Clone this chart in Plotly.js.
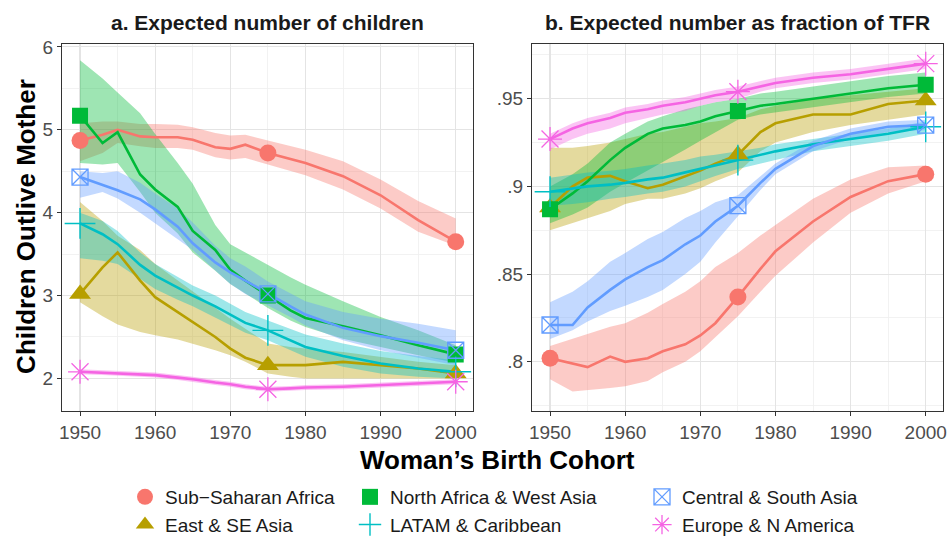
<!DOCTYPE html>
<html>
<head>
<meta charset="utf-8">
<script src="https://cdn.plot.ly/plotly-3.0.1.min.js"></script>
<style>html,body{margin:0;padding:0;background:#fff;}#chart{width:952px;height:544px;}</style>
</head>
<body>
<div id="chart"></div>
<script>
// ---------- DATA ----------
const years = [1950, 1953, 1955, 1958, 1960, 1963, 1965, 1968, 1970, 1972, 1975, 1978, 1980, 1985, 1990, 1995, 2000];
const markerYears = [1950, 1975, 2000];
const regions = ['Sub\u2212Saharan Africa', 'East & SE Asia', 'North Africa & West Asia', 'LATAM & Caribbean', 'Central & South Asia', 'Europe & N America'];

// Panel a: expected number of children outliving mother
const ssaA    = [4.87, 4.94, 5.00, 4.92, 4.91, 4.91, 4.88, 4.79, 4.77, 4.82, 4.72, 4.65, 4.60, 4.44, 4.21, 3.91, 3.65];
const ssaAHi  = [5.08, 5.10, 5.10, 5.07, 5.07, 5.06, 5.03, 4.96, 4.93, 4.94, 4.87, 4.80, 4.76, 4.62, 4.40, 4.14, 3.93];
const ssaALo  = [4.62, 4.72, 4.84, 4.80, 4.78, 4.78, 4.76, 4.67, 4.64, 4.66, 4.58, 4.50, 4.45, 4.28, 4.05, 3.77, 3.60];
const esaA    = [3.02, 3.34, 3.52, 3.18, 2.98, 2.80, 2.68, 2.50, 2.36, 2.25, 2.16, 2.16, 2.16, 2.20, 2.16, 2.12, 2.06];
const esaAHi  = [4.13, 3.90, 3.72, 3.55, 3.38, 3.18, 3.05, 2.85, 2.72, 2.60, 2.42, 2.38, 2.36, 2.32, 2.26, 2.20, 2.16];
const esaALo  = [2.92, 2.75, 2.65, 2.56, 2.52, 2.47, 2.42, 2.34, 2.28, 2.20, 2.06, 2.02, 2.00, 2.00, 2.00, 2.00, 2.00];
const nawaA   = [5.17, 4.84, 4.97, 4.46, 4.28, 4.07, 3.78, 3.55, 3.31, 3.18, 3.00, 2.82, 2.73, 2.63, 2.52, 2.40, 2.29];
const nawaAHi = [5.84, 5.62, 5.45, 5.20, 4.95, 4.60, 4.35, 3.85, 3.62, 3.52, 3.36, 3.22, 3.13, 2.93, 2.74, 2.58, 2.40];
const nawaALo = [4.60, 4.58, 4.60, 4.25, 4.00, 3.75, 3.52, 3.30, 3.14, 3.02, 2.85, 2.70, 2.62, 2.48, 2.38, 2.28, 2.19];
const latA    = [3.87, 3.74, 3.62, 3.37, 3.24, 3.09, 3.00, 2.87, 2.77, 2.67, 2.58, 2.46, 2.38, 2.27, 2.18, 2.12, 2.08];
const latAHi  = [4.00, 3.90, 3.78, 3.52, 3.38, 3.22, 3.12, 3.00, 2.90, 2.80, 2.70, 2.60, 2.53, 2.42, 2.33, 2.27, 2.22];
const latALo  = [3.45, 3.42, 3.38, 3.20, 3.08, 2.95, 2.87, 2.74, 2.64, 2.55, 2.46, 2.34, 2.26, 2.14, 2.06, 2.02, 2.00];
const csaA    = [4.43, 4.33, 4.27, 4.16, 4.04, 3.83, 3.63, 3.40, 3.28, 3.18, 3.02, 2.87, 2.77, 2.61, 2.51, 2.43, 2.34];
const csaAHi  = [4.50, 4.48, 4.50, 4.36, 4.23, 4.05, 3.88, 3.60, 3.45, 3.35, 3.17, 3.02, 2.93, 2.80, 2.72, 2.66, 2.58];
const csaALo  = [4.18, 4.25, 4.17, 4.00, 3.87, 3.68, 3.55, 3.30, 3.14, 3.02, 2.88, 2.74, 2.64, 2.46, 2.34, 2.25, 2.16];
const eurA    = [2.08, 2.07, 2.06, 2.05, 2.04, 2.01, 1.99, 1.95, 1.93, 1.90, 1.87, 1.88, 1.89, 1.90, 1.92, 1.94, 1.96];
const eurAHi  = [2.11, 2.10, 2.09, 2.08, 2.07, 2.04, 2.02, 1.98, 1.96, 1.93, 1.90, 1.91, 1.92, 1.93, 1.95, 1.97, 1.99];
const eurALo  = [2.05, 2.04, 2.03, 2.02, 2.01, 1.98, 1.96, 1.92, 1.90, 1.87, 1.84, 1.85, 1.86, 1.87, 1.89, 1.91, 1.93];

// Panel b: expected number as fraction of TFR
const ssaB    = [0.802, 0.799, 0.797, 0.803, 0.800, 0.802, 0.806, 0.810, 0.815, 0.822, 0.837, 0.853, 0.863, 0.880, 0.894, 0.903, 0.907];
const ssaBHi  = [0.809, 0.813, 0.816, 0.820, 0.822, 0.828, 0.833, 0.840, 0.846, 0.854, 0.862, 0.872, 0.878, 0.893, 0.904, 0.911, 0.912];
const ssaBLo  = [0.790, 0.783, 0.784, 0.785, 0.786, 0.789, 0.794, 0.800, 0.806, 0.814, 0.826, 0.840, 0.849, 0.868, 0.885, 0.896, 0.903];
const esaB    = [0.888, 0.900, 0.905, 0.906, 0.903, 0.899, 0.901, 0.906, 0.909, 0.913, 0.918, 0.931, 0.936, 0.941, 0.941, 0.947, 0.949];
const esaBHi  = [0.922, 0.922, 0.923, 0.925, 0.927, 0.930, 0.931, 0.934, 0.936, 0.937, 0.939, 0.944, 0.946, 0.950, 0.952, 0.954, 0.956];
const esaBLo  = [0.875, 0.879, 0.882, 0.886, 0.890, 0.893, 0.893, 0.896, 0.899, 0.903, 0.908, 0.920, 0.925, 0.931, 0.935, 0.938, 0.941];
const nawaB   = [0.887, 0.896, 0.903, 0.915, 0.922, 0.930, 0.933, 0.935, 0.937, 0.940, 0.943, 0.946, 0.947, 0.950, 0.953, 0.956, 0.958];
const nawaBHi = [0.900, 0.907, 0.913, 0.925, 0.930, 0.937, 0.940, 0.944, 0.946, 0.948, 0.950, 0.953, 0.954, 0.957, 0.960, 0.963, 0.965];
const nawaBLo = [0.879, 0.884, 0.888, 0.897, 0.902, 0.909, 0.914, 0.921, 0.926, 0.931, 0.938, 0.941, 0.942, 0.945, 0.948, 0.951, 0.953];
const latB    = [0.897, 0.899, 0.900, 0.901, 0.902, 0.904, 0.905, 0.908, 0.910, 0.912, 0.915, 0.918, 0.920, 0.924, 0.927, 0.930, 0.934];
const latBHi  = [0.905, 0.907, 0.908, 0.909, 0.910, 0.912, 0.913, 0.915, 0.917, 0.918, 0.920, 0.922, 0.924, 0.927, 0.930, 0.933, 0.937];
const latBLo  = [0.889, 0.890, 0.891, 0.893, 0.894, 0.896, 0.897, 0.900, 0.903, 0.906, 0.910, 0.913, 0.915, 0.920, 0.923, 0.926, 0.930];
const csaB    = [0.821, 0.821, 0.831, 0.841, 0.847, 0.854, 0.858, 0.867, 0.872, 0.880, 0.889, 0.902, 0.910, 0.923, 0.930, 0.934, 0.935];
const csaBHi  = [0.834, 0.840, 0.846, 0.857, 0.862, 0.870, 0.874, 0.882, 0.886, 0.891, 0.895, 0.906, 0.913, 0.926, 0.933, 0.937, 0.938];
const csaBLo  = [0.813, 0.818, 0.823, 0.829, 0.832, 0.837, 0.841, 0.850, 0.857, 0.868, 0.883, 0.898, 0.907, 0.920, 0.927, 0.931, 0.932];
const eurB    = [0.927, 0.933, 0.936, 0.939, 0.942, 0.944, 0.946, 0.948, 0.950, 0.952, 0.954, 0.957, 0.959, 0.962, 0.964, 0.967, 0.970];
const eurBHi  = [0.930, 0.936, 0.939, 0.942, 0.945, 0.947, 0.949, 0.951, 0.953, 0.955, 0.957, 0.960, 0.962, 0.965, 0.967, 0.970, 0.973];
const eurBLo  = [0.921, 0.927, 0.930, 0.933, 0.936, 0.939, 0.941, 0.943, 0.946, 0.948, 0.950, 0.954, 0.956, 0.959, 0.961, 0.964, 0.967];

const xTicks = [1950, 1960, 1970, 1980, 1990, 2000];
const xMinor = [1955, 1965, 1975, 1985, 1995];
const yTicksA = [2, 3, 4, 5, 6];
const yMinorA = [2.5, 3.5, 4.5, 5.5];
const yTicksB = [0.8, 0.85, 0.9, 0.95];
const yMinorB = [0.775, 0.825, 0.875, 0.925, 0.975];
const yTickTextB = ['.8', '.85', '.9', '.95'];

// ---------- STYLE ----------
const styles = [
  {color: '#F8766D', fill: 'rgba(248,118,109,0.38)', symbol: 'circle', size: 17, lw: 0},
  {color: '#B79F00', fill: 'rgba(183,159,0,0.38)', symbol: 'triangle-up', size: 19, lw: 0},
  {color: '#00BA38', fill: 'rgba(0,186,56,0.38)', symbol: 'square', size: 16, lw: 0},
  {color: '#00BFC4', fill: 'rgba(0,191,196,0.38)', symbol: 'cross-thin-open', size: 22, lw: 1.4},
  {color: '#619CFF', fill: 'rgba(97,156,255,0.38)', symbol: 'square-x-open', size: 16, lw: 1.3},
  {color: '#F564E3', fill: 'rgba(245,100,227,0.38)', symbol: 'asterisk-open', size: 20, lw: 1.3}
];
const panelA = [[ssaA, ssaALo, ssaAHi], [esaA, esaALo, esaAHi], [nawaA, nawaALo, nawaAHi], [latA, latALo, latAHi], [csaA, csaALo, csaAHi], [eurA, eurALo, eurAHi]];
const panelB = [[ssaB, ssaBLo, ssaBHi], [esaB, esaBLo, esaBHi], [nawaB, nawaBLo, nawaBHi], [latB, latBLo, latBHi], [csaB, csaBLo, csaBHi], [eurB, eurBLo, eurBHi]];
const legendIds = ['legend', 'legend', 'legend2', 'legend2', 'legend3', 'legend3'];

const bands = [], lines = [], marks = [];
[[panelA, 'x', 'y'], [panelB, 'x2', 'y2']].forEach(([panel, xa, ya], pi) => {
  panel.forEach(([mid, lo, hi], i) => {
    const s = styles[i];
    bands.push({
      x: years.concat(years.slice().reverse()),
      y: hi.concat(lo.slice().reverse()),
      xaxis: xa, yaxis: ya, type: 'scatter', mode: 'lines', fill: 'toself',
      fillcolor: s.fill, line: {width: 0, color: 'rgba(0,0,0,0)'},
      hoverinfo: 'skip', showlegend: false
    });
    lines.push({
      x: years, y: mid, xaxis: xa, yaxis: ya, type: 'scatter', mode: 'lines',
      line: {color: s.color, width: 2.6}, showlegend: false, name: regions[i]
    });
    const my = markerYears.map(yr => mid[years.indexOf(yr)]);
    marks.push({
      x: markerYears, y: my, xaxis: xa, yaxis: ya, type: 'scatter', mode: 'markers',
      name: regions[i], legend: legendIds[i], legendrank: i,
      showlegend: pi === 0,
      marker: {symbol: s.symbol, size: s.size, color: s.color, line: {color: s.color, width: s.lw}}
    });
  });
});

const W = 952, H = 544;
const px = v => v / W, py = v => 1 - v / H;
const gridCol = '#e4e4e4', minorCol = '#efefef';
const tickFont = {family: 'Liberation Sans, Arial, sans-serif', size: 19, color: '#4d4d4d'};
function xAxis(dom, anchor) {
  return {domain: dom, anchor: anchor, range: [1947.6, 2002.3], tickvals: xTicks, ticks: 'outside', ticklen: 4,
    tickcolor: '#333333', tickwidth: 1, showline: true, mirror: true, linecolor: '#333333', linewidth: 1,
    showgrid: true, gridcolor: gridCol, gridwidth: 1.1, zeroline: false, tickfont: tickFont,
    minor: {tickvals: xMinor, ticks: '', showgrid: true, gridcolor: minorCol, gridwidth: 0.8}};
}
function yAxis(range, tv, tt, mv, anchor) {
  const ax = {domain: [py(420), py(45)], anchor: anchor, range: range, tickvals: tv, ticks: 'outside', ticklen: 4,
    tickcolor: '#333333', tickwidth: 1, showline: true, mirror: true, linecolor: '#333333', linewidth: 1,
    showgrid: true, gridcolor: gridCol, gridwidth: 1.1, zeroline: false, tickfont: tickFont,
    minor: {tickvals: mv, ticks: '', showgrid: true, gridcolor: minorCol, gridwidth: 0.8}};
  if (tt) ax.ticktext = tt;
  return ax;
}
const legFont = {family: 'Liberation Sans, Arial, sans-serif', size: 19, color: '#1a1a1a'};
function leg(xpx) {
  return {x: px(xpx), xanchor: 'left', y: py(523), yanchor: 'middle', orientation: 'v', font: legFont,
    bgcolor: 'rgba(0,0,0,0)', borderwidth: 0, tracegroupgap: 0, itemsizing: 'trace'};
}

const layout = {
  width: W, height: H, margin: {l: 0, r: 0, t: 0, b: 0},
  paper_bgcolor: '#ffffff', plot_bgcolor: '#ffffff',
  font: {family: 'Liberation Sans, Arial, sans-serif'},
  xaxis: xAxis([px(62), px(473)], 'y'),
  yaxis: yAxis([1.61, 6.035], yTicksA, null, yMinorA, 'x'),
  xaxis2: xAxis([px(532), px(943)], 'y2'),
  yaxis2: yAxis([0.7721, 0.9812], yTicksB, yTickTextB, yMinorB, 'x2'),
  legend: leg(125), legend2: leg(350), legend3: leg(642),
  annotations: [
    {text: '<b>a. Expected number of children</b>', x: px(267), y: py(23), xref: 'paper', yref: 'paper',
     showarrow: false, font: {size: 21, color: '#1a1a1a'}, xanchor: 'center', yanchor: 'middle'},
    {text: '<b>b. Expected number as fraction of TFR</b>', x: px(737), y: py(23), xref: 'paper', yref: 'paper',
     showarrow: false, font: {size: 21, color: '#1a1a1a'}, xanchor: 'center', yanchor: 'middle'},
    {text: '<b>Children Outlive Mother</b>', x: px(26), y: py(232), xref: 'paper', yref: 'paper', textangle: -90,
     showarrow: false, font: {size: 26, color: '#000000'}, xanchor: 'center', yanchor: 'middle'},
    {text: '<b>Woman\u2019s Birth Cohort</b>', x: px(497), y: py(470), xref: 'paper', yref: 'paper',
     showarrow: false, font: {size: 26, color: '#000000'}, xanchor: 'center', yanchor: 'middle'}
  ]
};

Plotly.newPlot('chart', bands.concat(lines, marks), layout, {staticPlot: true, displayModeBar: false});
</script>
</body>
</html>
